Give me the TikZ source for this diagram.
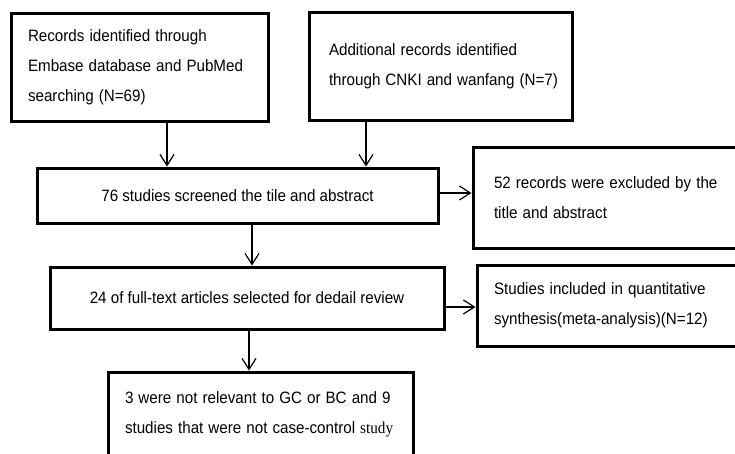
\documentclass[tikz,border=0pt]{standalone}
\usepackage{fontspec}
\usepackage{graphicx}
\setmainfont{Liberation Sans}
\newfontfamily\serifx{Liberation Serif}
\usetikzlibrary{arrows.meta}
\newcommand\stretchline[1]{\scalebox{0.985}[1.07]{#1}}
\tikzset{
  box/.style={draw, line width=3pt, inner ysep=0pt, rectangle, fill=white,
    font=\fontsize{15.4pt}{30pt}\selectfont},
  lbox/.style={box, align=left},
  arr/.style={-{Straight Barb[length=11pt,width=14pt,line width=1.2pt]}, line width=1.2pt},
}
\begin{document}
\begin{tikzpicture}[x=1pt,y=-1pt]
\useasboundingbox (0,0) rectangle (735,453);
\fill[white] (0,0) rectangle (735,453);
\clip (0,0) rectangle (735,453);

\node[lbox, text width=223pt, inner xsep=17pt, minimum height=108pt] (B1) at (139.5,67)
  {\stretchline{Records identified through}\\\stretchline{Embase database and PubMed}\\\stretchline{searching (N=69)}};
\node[lbox, text width=223pt, inner xsep=20pt, minimum height=108pt] (B2) at (440.5,66)
  {\stretchline{Additional records identified}\\\stretchline{through CNKI and wanfang (N=7)}};
\node[box, minimum width=401pt, minimum height=55pt] (B3) at (237.5,195.5)
  {\stretchline{76 studies screened the tile and abstract}};
\node[lbox, text width=221pt, inner xsep=21pt, minimum height=101pt] (B4) at (604.5,197.5)
  {\stretchline{52 records were excluded by the}\\\stretchline{title and abstract}};
\node[box, minimum width=394pt, minimum height=62pt] (B5) at (247,298)
  {\stretchline{24 of full-text articles selected for dedail review}};
\node[lbox, text width=225pt, inner xsep=17pt, minimum height=81pt] (B6) at (606.5,305.5)
  {\stretchline{Studies included in quantitative}\\\stretchline{synthesis(meta-analysis)(N=12)}};
\node[lbox, text width=271pt, inner xsep=17pt, minimum height=84pt] (B7) at (260.5,414)
  {\stretchline{3 were not relevant to GC or BC and 9}\\\stretchline{studies that were not case-control {\serifx study}}};

\draw[arr] (167,0 |- B1.south) -- (167,0 |- B3.north);
\draw[arr] (366,0 |- B2.south) -- (366,0 |- B3.north);
\draw[arr] (B3.east |- 0,193) -- (B4.west |- 0,193);
\draw[arr] (252,0 |- B3.south) -- (252,0 |- B5.north);
\draw[arr] (B5.east |- 0,307) -- (B6.west |- 0,307);
\draw[arr] (249,0 |- B5.south) -- (249,0 |- B7.north);
\end{tikzpicture}
\end{document}
